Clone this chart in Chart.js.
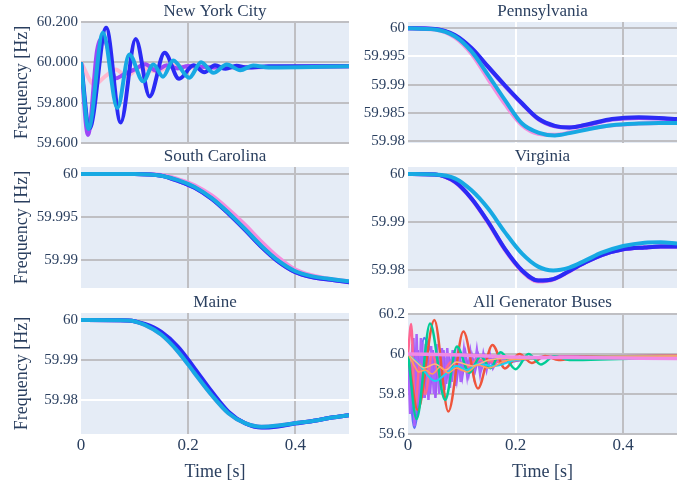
<!DOCTYPE html>
<html>
<head>
<meta charset="utf-8">
<script src="https://cdn.jsdelivr.net/npm/chart.js@4.4.1/dist/chart.umd.min.js"></script>
<style>
  body { margin: 0; background: #fff; width: 686px; height: 487px; position: relative; overflow: hidden; }
  canvas { position: absolute; }
</style>
</head>
<body>
<canvas id="nyc" width="350" height="155" style="left:0;top:0"></canvas>
<canvas id="pa" width="334" height="155" style="left:352px;top:0"></canvas>
<canvas id="sc" width="350" height="155" style="left:0;top:145px"></canvas>
<canvas id="va" width="334" height="155" style="left:352px;top:145px"></canvas>
<canvas id="me" width="350" height="196" style="left:0;top:291px"></canvas>
<canvas id="gen" width="334" height="196" style="left:352px;top:291px"></canvas>

<script>
// x axis (time)
const xTicks = [0, 0.2, 0.4];
const xTickLabels = ['0', '0.2', '0.4'];

// New York City - each bus has its own time points (peaks / troughs)
const nycBlueT = [0, 0.016, 0.047, 0.074, 0.102, 0.128, 0.156, 0.183, 0.21, 0.23, 0.25, 0.27, 0.29, 0.31, 0.35, 0.5];
const nycBlueF = [60.0, 59.673, 60.172, 59.702, 60.116, 59.831, 60.047, 59.918, 59.985, 59.951, 59.985, 59.968, 59.983, 59.974, 59.98, 59.981];
const nycCyanT = [0, 0.014, 0.041, 0.068, 0.09, 0.116, 0.135, 0.153, 0.172, 0.202, 0.224, 0.247, 0.272, 0.297, 0.321, 0.35, 0.5];
const nycCyanF = [60.0, 59.67, 60.147, 59.773, 60.039, 59.906, 59.989, 59.929, 60.009, 59.924, 60.0, 59.948, 59.989, 59.961, 59.984, 59.975, 59.981];
const nycPurpleT = [0, 0.013, 0.03, 0.041, 0.05, 0.064, 0.08, 0.1, 0.12, 0.14, 0.16, 0.18, 0.2, 0.25, 0.5];
const nycPurpleF = [60.0, 59.64, 60.06, 60.12, 60.07, 59.92, 59.94, 59.965, 59.99, 59.96, 59.985, 59.97, 59.982, 59.975, 59.981];
const nycPinkT = [0, 0.025, 0.045, 0.065, 0.085, 0.11, 0.14, 0.17, 0.2, 0.5];
const nycPinkF = [60.0, 59.89, 59.93, 59.965, 59.93, 59.975, 59.955, 59.985, 59.975, 59.981];
const nycTicks = [59.6, 59.8, 60.0, 60.2];
const nycTickLabels = ['59.600', '59.800', '60.000', '60.200'];

// Pennsylvania
const paT = [0, 0.05, 0.087, 0.118, 0.149, 0.18, 0.212, 0.242, 0.273, 0.3, 0.335, 0.379, 0.429, 0.466, 0.5];
const paPink = [60.0, 59.9998, 59.9984, 59.9955, 59.991, 59.9866, 59.9828, 59.9813, 59.9811, 59.9815, 59.9822, 59.9828, 59.9831, 59.9832, 59.9832];
const paPurple = [60.0, 59.9999, 59.9987, 59.9964, 59.9931, 59.9898, 59.9866, 59.9839, 59.9826, 59.9824, 59.9829, 59.9838, 59.9841, 59.984, 59.9838];
const paBlue = [60.0, 59.9999, 59.9988, 59.9965, 59.9932, 59.9899, 59.9867, 59.984, 59.9827, 59.9824, 59.983, 59.9839, 59.9842, 59.9841, 59.9839];
const paCyan = [60.0, 59.9998, 59.9986, 59.9959, 59.9917, 59.9873, 59.9831, 59.9815, 59.981, 59.9814, 59.9821, 59.9828, 59.9831, 59.9832, 59.9832];
const paTicks = [59.98, 59.985, 59.99, 59.995, 60];
const paTickLabels = ['59.98', '59.985', '59.99', '59.995', '60'];

// South Carolina
const scT = [0, 0.1, 0.15, 0.181, 0.212, 0.244, 0.275, 0.306, 0.337, 0.368, 0.399, 0.43, 0.462, 0.5];
const scPink = [60.0, 60.0, 59.9999, 59.9994, 59.9987, 59.9975, 59.9959, 59.9941, 59.9921, 59.9903, 59.9889, 59.9882, 59.9878, 59.9875];
const scPurple = [60.0, 60.0, 59.9998, 59.9992, 59.9984, 59.9971, 59.9954, 59.9935, 59.9915, 59.9898, 59.9886, 59.988, 59.9877, 59.9874];
const scBlue = [60.0, 60.0, 59.9998, 59.9992, 59.9984, 59.9971, 59.9954, 59.9935, 59.9915, 59.9898, 59.9886, 59.988, 59.9877, 59.9874];
const scCyan = [60.0, 60.0, 59.9998, 59.9993, 59.9985, 59.9972, 59.9955, 59.9936, 59.9916, 59.9899, 59.9887, 59.9881, 59.9878, 59.9875];
const scTicks = [59.99, 59.995, 60];
const scTickLabels = ['59.99', '59.995', '60'];

// Virginia
const vaT = [0, 0.05, 0.087, 0.118, 0.149, 0.18, 0.212, 0.242, 0.27, 0.3, 0.33, 0.36, 0.4, 0.44, 0.47, 0.5];
const vaPink = [60.0, 59.9999, 59.9983, 59.9948, 59.9898, 59.9842, 59.9797, 59.9776, 59.978, 59.9797, 59.9816, 59.9831, 59.9843, 59.9847, 59.9849, 59.9849];
const vaPurple = [60.0, 59.9999, 59.9984, 59.9949, 59.99, 59.9844, 59.9799, 59.9778, 59.9781, 59.9798, 59.9816, 59.9831, 59.9843, 59.9847, 59.9849, 59.9849];
const vaBlue = [60.0, 59.9999, 59.9984, 59.9949, 59.99, 59.9844, 59.9799, 59.9778, 59.9781, 59.9798, 59.9816, 59.9831, 59.9843, 59.9847, 59.9849, 59.9849];
const vaCyan = [60.0, 59.9999, 59.9991, 59.9966, 59.9928, 59.9879, 59.9834, 59.9807, 59.9799, 59.9805, 59.982, 59.9836, 59.985, 59.9857, 59.9858, 59.9855];
const vaTicks = [59.98, 59.99, 60];
const vaTickLabels = ['59.98', '59.99', '60'];

// Maine
const meT = [0, 0.088, 0.119, 0.15, 0.181, 0.212, 0.244, 0.275, 0.306, 0.337, 0.368, 0.399, 0.43, 0.468, 0.5];
const mePink = [60.0, 59.9999, 59.9988, 59.9963, 59.9921, 59.9867, 59.9812, 59.9767, 59.9742, 59.9733, 59.9736, 59.9742, 59.9747, 59.9756, 59.9762];
const mePurple = [60.0, 59.9999, 59.9989, 59.9966, 59.9926, 59.9872, 59.9816, 59.9769, 59.9742, 59.9732, 59.9735, 59.9742, 59.9747, 59.9756, 59.9762];
const meBlue = [60.0, 59.9999, 59.999, 59.997, 59.9933, 59.9879, 59.9821, 59.9771, 59.9742, 59.9731, 59.9734, 59.9741, 59.9747, 59.9756, 59.9762];
const meCyan = [60.0, 59.9999, 59.9988, 59.9963, 59.9921, 59.9867, 59.9812, 59.9767, 59.9742, 59.9733, 59.9736, 59.9742, 59.9747, 59.9756, 59.9762];
const meTicks = [59.98, 59.99, 60];
const meTickLabels = ['59.98', '59.99', '60'];

// All generator buses
const genRedT = [0, 0.018, 0.049, 0.075, 0.103, 0.13, 0.157, 0.18, 0.207, 0.23, 0.255, 0.28, 0.32, 0.5];
const genRedF = [60.0, 59.72, 60.17, 59.712, 60.112, 59.828, 60.045, 59.928, 60.0, 59.955, 59.99, 59.97, 59.985, 59.99];
const genGreenT = [0, 0.016, 0.041, 0.069, 0.091, 0.114, 0.135, 0.153, 0.172, 0.2, 0.224, 0.247, 0.272, 0.3, 0.5];
const genGreenF = [60.0, 59.675, 60.153, 59.77, 60.037, 59.906, 59.989, 59.929, 60.009, 59.924, 60.0, 59.948, 59.989, 59.97, 59.985];
const genBlueT = [0, 0.012, 0.03, 0.045, 0.065, 0.085, 0.11, 0.14, 0.18, 0.25, 0.5];
const genBlueF = [60.0, 59.63, 60.08, 60.0, 59.9, 59.95, 59.93, 59.97, 59.96, 59.985, 59.99];
const genPurpleT = [0, 0.004, 0.008, 0.012, 0.016, 0.02, 0.024, 0.028, 0.033, 0.038, 0.043, 0.048, 0.053, 0.058, 0.063, 0.068, 0.073, 0.078, 0.083, 0.088, 0.093, 0.098, 0.104, 0.11, 0.116, 0.122, 0.128, 0.134, 0.14, 0.146, 0.152, 0.158, 0.17, 0.2, 0.3, 0.5];
const genPurpleF = [60.0, 59.7, 60.05, 59.64, 60.1, 59.72, 60.08, 59.78, 60.05, 59.77, 60.04, 59.8, 60.05, 59.8, 60.03, 59.82, 60.03, 59.83, 60.02, 59.84, 60.03, 59.86, 60.02, 59.89, 60.01, 59.9, 60.02, 59.9, 60.0, 59.92, 60.0, 59.93, 59.99, 59.975, 59.985, 59.985];
const genViolet2T = [0, 0.006, 0.01, 0.014, 0.018, 0.022, 0.026, 0.031, 0.036, 0.041, 0.046, 0.051, 0.056, 0.061, 0.066, 0.071, 0.076, 0.081, 0.086, 0.091, 0.096, 0.101, 0.107, 0.113, 0.119, 0.125, 0.131, 0.137, 0.143, 0.15, 0.16, 0.18, 0.25, 0.5];
const genViolet2F = [60.0, 59.8, 60.08, 59.7, 60.02, 59.75, 60.06, 59.78, 60.04, 59.8, 60.02, 59.78, 60.0, 59.82, 60.02, 59.85, 60.0, 59.86, 60.01, 59.88, 59.99, 59.89, 60.0, 59.9, 59.99, 59.92, 59.99, 59.93, 59.99, 59.95, 59.98, 59.975, 59.985, 59.99];
const genOrangeT = [0, 0.01, 0.02, 0.032, 0.045, 0.06, 0.075, 0.09, 0.11, 0.13, 0.15, 0.18, 0.22, 0.3, 0.5];
const genOrangeF = [60.0, 59.95, 59.91, 59.92, 59.9, 59.935, 59.905, 59.93, 59.91, 59.945, 59.93, 59.965, 59.975, 59.985, 59.99];
const genOrange2T = [0, 0.015, 0.03, 0.05, 0.07, 0.09, 0.12, 0.15, 0.2, 0.5];
const genOrange2F = [60.0, 59.96, 59.93, 59.95, 59.92, 59.96, 59.94, 59.97, 59.98, 59.99];
const genCyanT = [0, 0.02, 0.05, 0.07, 0.09, 0.11, 0.13, 0.16, 0.2, 0.25, 0.5];
const genCyanF = [60.0, 59.95, 59.865, 59.9, 59.94, 59.92, 59.95, 59.94, 59.97, 59.98, 59.99];
const genPinkT = [0, 0.006, 0.013, 0.022, 0.032, 0.045, 0.06, 0.08, 0.1, 0.13, 0.17, 0.25, 0.5];
const genPinkF = [60.0, 60.15, 59.72, 59.95, 59.8, 60.0, 59.88, 59.96, 59.92, 59.97, 59.96, 59.985, 59.99];
const genLimeT = [0, 0.02, 0.04, 0.06, 0.08, 0.1, 0.13, 0.16, 0.2, 0.5];
const genLimeF = [60.0, 59.92, 59.96, 59.93, 59.97, 59.94, 59.97, 59.96, 59.98, 59.99];
const genYellowT = [0, 0.03, 0.06, 0.1, 0.15, 0.2, 0.5];
const genYellowF = [60.0, 59.96, 59.98, 59.96, 59.99, 59.98, 59.995];
const genMeanT = [0, 0.1, 0.2, 0.3, 0.5];
const genMeanF = [60.0, 59.995, 59.985, 59.982, 59.978];
const genTicks = [59.6, 59.8, 60, 60.2];
const genTickLabels = ['59.6', '59.8', '60', '60.2'];

const fontFam = '"Liberation Serif", "Times New Roman", serif';
const txt = '#2a3f5f';
const cBlue = '#2b2bf5', cPurple = '#9d47f7', cPink = '#f58ede', cPinkLight = '#ffb8cf', cCyan = '#17a9e3';

const pts = (t, f) => t.map((x, i) => ({ x: x, y: f[i] }));

const linea = (t, f, color, width, smooth = true) => ({
    data: pts(t, f),
    borderColor: color,
    borderWidth: width,
    pointRadius: 0,
    fill: false,
    cubicInterpolationMode: smooth ? 'monotone' : 'default',
    tension: 0
});

// plot background
const fondo = {
    id: 'fondo',
    beforeDraw: (chart) => {
        const a = chart.chartArea;
        const ctx = chart.ctx;
        ctx.save();
        ctx.fillStyle = '#e5ecf6';
        ctx.fillRect(a.left, a.top, a.right - a.left, a.bottom - a.top);
        ctx.restore();
    }
};

const gridColor = (v, whites) => {
    if (v === 0) return 'rgba(0,0,0,0)';
    if (whites && whites.indexOf(v) >= 0) return '#ffffff';
    return '#bfbfc3';
};

// first dataset in the list is drawn on top
const dibujar = (id, cfg) => {
    const ctx = document.getElementById(id).getContext('2d');
    return new Chart(ctx, {
        type: 'line',
        data: { datasets: cfg.datasets },
        plugins: [fondo],
        options: {
            responsive: false,
            animation: false,
            devicePixelRatio: 1,
            layout: { padding: { left: 0, right: cfg.padRight, top: 0, bottom: 0 } },
            plugins: {
                legend: { display: false },
                tooltip: { enabled: false },
                title: {
                    display: true, text: cfg.title, fullSize: false, color: txt,
                    font: { family: fontFam, size: 17, weight: 'normal' },
                    padding: { top: 1.5, bottom: 0.1 }
                }
            },
            scales: {
                x: {
                    type: 'linear', min: 0, max: 0.5,
                    afterBuildTicks: (s) => { s.ticks = xTicks.map(v => ({ value: v })); },
                    afterFit: (s) => { s.height = cfg.bottom ? 53 : 12; },
                    border: { display: false },
                    grid: { drawTicks: false, lineWidth: 2, color: (c) => gridColor(c.tick.value, cfg.whiteX) },
                    ticks: {
                        display: cfg.bottom, padding: 1, color: txt, autoSkip: false, maxRotation: 0,
                        font: { family: fontFam, size: 17 },
                        callback: (v) => xTickLabels[xTicks.indexOf(v)]
                    },
                    title: {
                        display: cfg.bottom, text: 'Time [s]', color: txt,
                        font: { family: fontFam, size: 18 }, padding: { top: 0, bottom: 3.5 }
                    }
                },
                y: {
                    type: 'linear', min: cfg.yMin, max: cfg.yMax,
                    afterBuildTicks: (s) => { s.ticks = cfg.yTicks.map(v => ({ value: v })); },
                    afterFit: (s) => { s.width = cfg.yWidth; },
                    border: { display: false },
                    grid: { drawTicks: false, lineWidth: 2, color: (c) => gridColor(c.tick.value, cfg.whiteY) },
                    ticks: {
                        padding: 3, color: txt, autoSkip: false,
                        font: { family: fontFam, size: 15 },
                        callback: (v) => cfg.yTickLabels[cfg.yTicks.indexOf(v)]
                    },
                    title: {
                        display: cfg.left, text: 'Frequency [Hz]', color: txt,
                        font: { family: fontFam, size: 18 }, padding: { top: 11, bottom: 0 }
                    }
                }
            }
        }
    });
};

dibujar('nyc', {
    title: 'New York City', left: true, bottom: false, yWidth: 81, padRight: 1,
    yMin: 59.6, yMax: 60.2, yTicks: nycTicks, yTickLabels: nycTickLabels,
    datasets: [
        linea(nycCyanT, nycCyanF, cCyan, 4),
        linea(nycBlueT, nycBlueF, cBlue, 4),
        linea(nycPurpleT, nycPurpleF, cPurple, 4),
        linea(nycPinkT, nycPinkF, cPinkLight, 4)
    ]
});

dibujar('pa', {
    title: 'Pennsylvania', left: false, bottom: false, yWidth: 56, padRight: 9,
    yMin: 59.97965, yMax: 60.00112, yTicks: paTicks, yTickLabels: paTickLabels,
    whiteX: [0.2], whiteY: [59.995],
    datasets: [
        linea(paT, paCyan, cCyan, 4),
        linea(paT, paBlue, cBlue, 4),
        linea(paT, paPurple, cPurple, 4),
        linea(paT, paPink, cPink, 4)
    ]
});

dibujar('sc', {
    title: 'South Carolina', left: true, bottom: false, yWidth: 81, padRight: 1,
    yMin: 59.98672, yMax: 60.00082, yTicks: scTicks, yTickLabels: scTickLabels,
    datasets: [
        linea(scT, scCyan, cCyan, 4),
        linea(scT, scBlue, cBlue, 4),
        linea(scT, scPurple, cPurple, 4),
        linea(scT, scPink, cPink, 4)
    ]
});

dibujar('va', {
    title: 'Virginia', left: false, bottom: false, yWidth: 56, padRight: 9,
    yMin: 59.97625, yMax: 60.00146, yTicks: vaTicks, yTickLabels: vaTickLabels,
    whiteX: [0.2],
    datasets: [
        linea(vaT, vaCyan, cCyan, 4),
        linea(vaT, vaBlue, cBlue, 4),
        linea(vaT, vaPurple, cPurple, 4),
        linea(vaT, vaPink, cPink, 4)
    ]
});

dibujar('me', {
    title: 'Maine', left: true, bottom: true, yWidth: 81, padRight: 1,
    yMin: 59.9715, yMax: 60.00175, yTicks: meTicks, yTickLabels: meTickLabels,
    whiteY: [59.98],
    datasets: [
        linea(meT, meCyan, cCyan, 4),
        linea(meT, meBlue, cBlue, 4),
        linea(meT, mePurple, cPurple, 4),
        linea(meT, mePink, cPink, 4)
    ]
});

dibujar('gen', {
    title: 'All Generator Buses', left: false, bottom: true, yWidth: 56, padRight: 9,
    yMin: 59.6, yMax: 60.205, yTicks: genTicks, yTickLabels: genTickLabels,
    whiteX: [0.2],
    datasets: [
        linea(genMeanT, genMeanF, '#f08ae6', 3.5),
        linea(genOrangeT, genOrangeF, '#ffa15a', 1.5),
        linea(genOrange2T, genOrange2F, '#ffb67d', 1.5),
        linea(genCyanT, genCyanF, '#19d3f3', 2),
        linea(genGreenT, genGreenF, '#00cc96', 2.5),
        linea(genRedT, genRedF, '#ef553b', 2.5),
        linea(genPinkT, genPinkF, '#ff6692', 2.5),
        linea(genPurpleT, genPurpleF, '#ab63fa', 2.5, false),
        linea(genViolet2T, genViolet2F, '#a35bf5', 2.5, false),
        linea(genBlueT, genBlueF, '#636efa', 2.5),
        linea(genLimeT, genLimeF, '#b6e880', 1.5),
        linea(genYellowT, genYellowF, '#fecb52', 1.5)
    ]
});
</script>
</body>
</html>
